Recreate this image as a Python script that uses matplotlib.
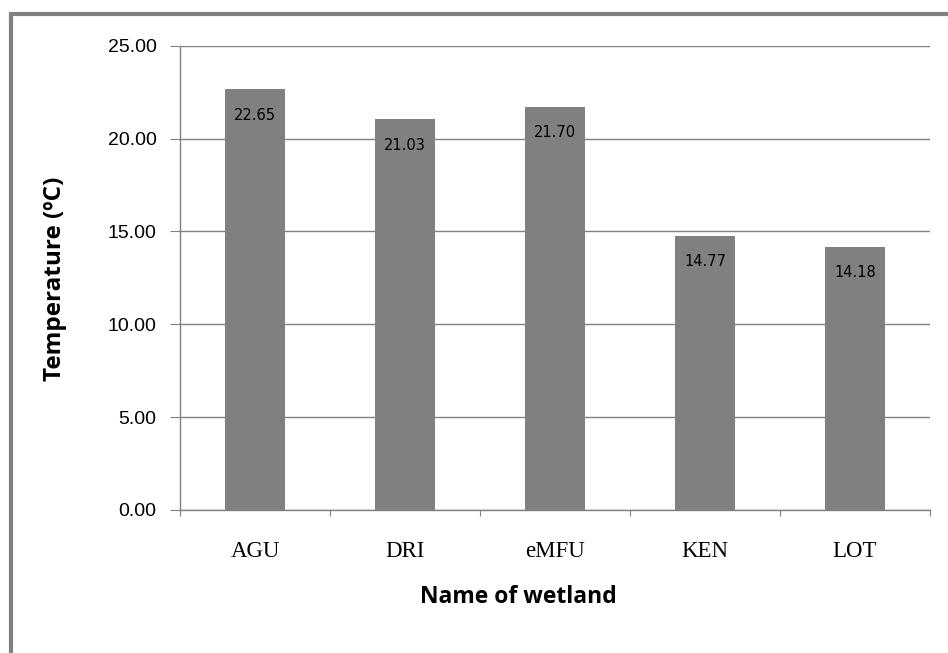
import matplotlib.pyplot as plt
import matplotlib.ticker as ticker
from matplotlib.patches import Rectangle

# Mean water temperature per wetland
wetlands = ["AGU", "DRI", "eMFU", "KEN", "LOT"]
temperature = [22.65, 21.03, 21.70, 14.77, 14.18]

grey = "#808080"

fig = plt.figure(figsize=(9.48, 6.53), dpi=100)
ax = fig.add_axes([0.19, 0.219, 0.791, 0.711])

x = list(range(len(wetlands)))
bars = ax.bar(x, temperature, width=0.4, color=grey, zorder=3)

ax.set_xlim(-0.5, len(wetlands) - 0.5)
ax.set_ylim(0, 25)
ax.yaxis.set_major_locator(ticker.MultipleLocator(5))
ax.yaxis.set_major_formatter(ticker.FormatStrFormatter("%.2f"))
ax.grid(axis="y", color=grey, linewidth=1, zorder=0)

# category ticks sit on the band boundaries, labels in the middle
ax.set_xticks([i - 0.5 for i in range(len(wetlands) + 1)])
ax.set_xticklabels([])
ax.set_xticks(x, minor=True)
ax.set_xticklabels(wetlands, minor=True, fontfamily="Liberation Serif", fontsize=16.5)
ax.tick_params(axis="x", which="major", direction="out", length=4, color=grey)
ax.tick_params(axis="x", which="minor", length=0, pad=22)
ax.tick_params(axis="y", direction="out", length=7, color=grey, pad=10)
for lab in ax.get_yticklabels():
    lab.set_fontfamily("Liberation Sans")
    lab.set_fontsize(14)

for side in ["top", "right"]:
    ax.spines[side].set_visible(False)
for side in ["left", "bottom"]:
    ax.spines[side].set_color(grey)
    ax.spines[side].set_linewidth(1)

for b, v in zip(bars, temperature):
    ax.annotate(f"{v:.2f}", xy=(b.get_x() + b.get_width() / 2, v),
                xytext=(0, -18.5), textcoords="offset points",
                ha="center", va="center", fontsize=10.5, zorder=4)

ax.set_xlabel("Name of wetland", fontsize=16.5, fontweight="bold",
              fontfamily="Open Sans", va="center", ha="center")
ax.xaxis.set_label_coords(0.451, -0.1875)
ax.set_ylabel("Temperature (\u00baC)", fontsize=17.5, fontweight="bold",
              fontfamily="Open Sans", va="center", ha="center")
ax.yaxis.set_label_coords(-0.1667, 0.498)

# chart-area frame running off the right and bottom edges
fig.patches.append(Rectangle((11 / 948, -0.1), 1.2, 1 - 14 / 653 + 0.1,
                             transform=fig.transFigure, fill=False,
                             edgecolor=grey, linewidth=3))

plt.savefig("out.png", dpi=100)
